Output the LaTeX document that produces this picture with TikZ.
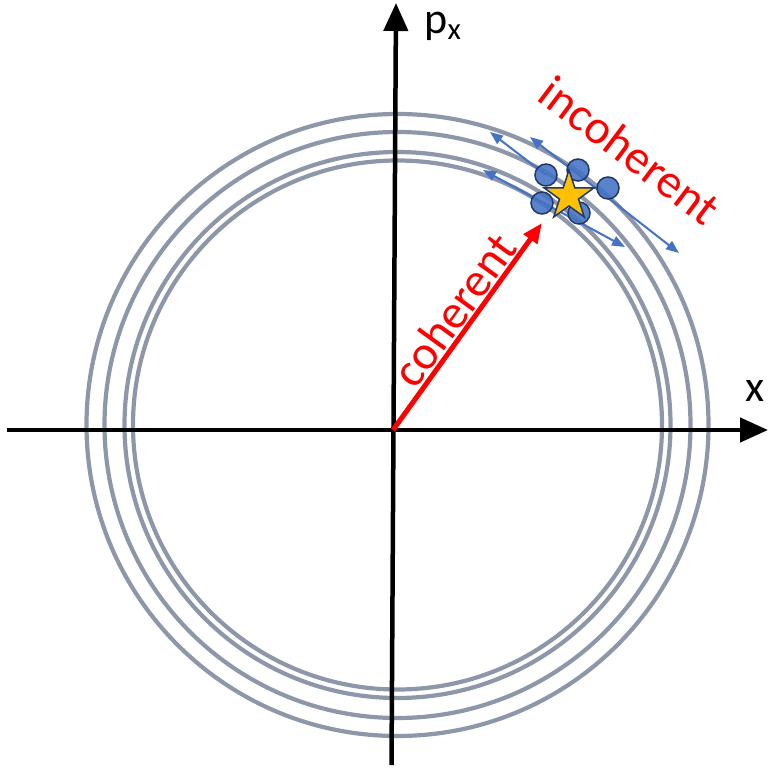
\documentclass[tikz,border=0pt]{standalone}
\usepackage{fontspec}
\setmainfont{Carlito}
\usetikzlibrary{arrows.meta,shapes.geometric}
\definecolor{ringgray}{RGB}{142,150,170}
\definecolor{dotblue}{RGB}{68,114,196}
\definecolor{dotnavy}{RGB}{32,56,100}
\definecolor{stargold}{RGB}{255,192,0}

\begin{document}
\begin{tikzpicture}[
    x=1pt, y=-1pt,
    axis/.style={
        line width=4.5pt,
        draw=black,
        -{Triangle[length=28pt,width=24pt]}
    },
    ring/.style={
        line width=4.2pt,
        draw=ringgray
    },
    coh/.style={
        line width=5pt,
        draw=red,
        -{Triangle[length=20pt,width=16pt]}
    },
    spreadout/.style={
        line width=2pt,
        draw=dotblue,
        -{Triangle[length=13pt,width=10pt]}
    },
    spreadboth/.style={
        line width=2pt,
        draw=dotblue,
        {Triangle[length=13pt,width=10pt]}-{Triangle[length=13pt,width=10pt]}
    },
    dot/.style={
        circle,
        minimum size=22pt,
        inner sep=0pt,
        fill=dotblue,
        fill opacity=0.88,
        draw=dotnavy,
        line width=1.5pt
    },
    goldstar/.style={
        star,
        star points=5,
        star point ratio=2.6,
        minimum size=52pt,
        inner sep=0pt,
        fill=stargold,
        draw=dotnavy,
        line width=1.5pt
    },
    lbl/.style={
        font=\fontsize{48}{54}\selectfont,
        text=red,
        inner sep=0pt
    },
    axlbl/.style={
        font=\fontsize{44}{50}\selectfont,
        inner sep=0pt
    }
]
    \useasboundingbox (0,0) rectangle (769,768);

    % Points
    \coordinate (O) at (393,430);
    \coordinate (ctr) at (397.5,425);
    \coordinate (xl) at (7,430);
    \coordinate (xr) at (768,430);
    \coordinate (yb) at (391.5,765);
    \coordinate (yt) at (396,3);
    \coordinate (tip) at (542,223);

    % Rings
    \draw[ring] (ctr) circle[radius=311];
    \draw[ring] (ctr) circle[radius=293];
    \draw[ring] (ctr) circle[radius=273];
    \draw[ring] (ctr) circle[radius=264.5];

    % Axes
    \draw[axis] (xl) -- (xr);
    \draw[axis] (yb) -- (yt);
    \node[axlbl] (xlab) at (755,391) {x};
    \node[axlbl] (plab) at (443,26) {p\textsubscript{x}};

    % Coherent arrow
    \draw[coh] (O) -- (tip);
    \node[lbl, rotate=54] (cohlab) at (454,310) {coherent};

    % Spread of the points
    \coordinate (p1) at (546,175);
    \coordinate (p2) at (578,170);
    \coordinate (p3) at (608,188);
    \coordinate (p4) at (542,203);
    \coordinate (p5) at (579,213);
    \coordinate (a1) at (490,132);
    \coordinate (a2s) at (530,137);
    \coordinate (a2e) at (679,253);
    \coordinate (a3s) at (483,170);
    \coordinate (a3e) at (625,247);
    \draw[spreadout] (p1) -- (a1);
    \draw[spreadboth] (a2s) -- (a2e);
    \draw[spreadboth] (a3s) -- (a3e);

    \node[dot] (d1) at (p1) {};
    \node[dot] (d2) at (p2) {};
    \node[dot] (d3) at (p3) {};
    \node[dot] (d4) at (p4) {};
    \node[dot] (d5) at (p5) {};
    \node[goldstar] (st) at (569,196) {};

    \node[lbl, rotate=-37] (inclab) at (630,150) {incoherent};
\end{tikzpicture}
\end{document}
